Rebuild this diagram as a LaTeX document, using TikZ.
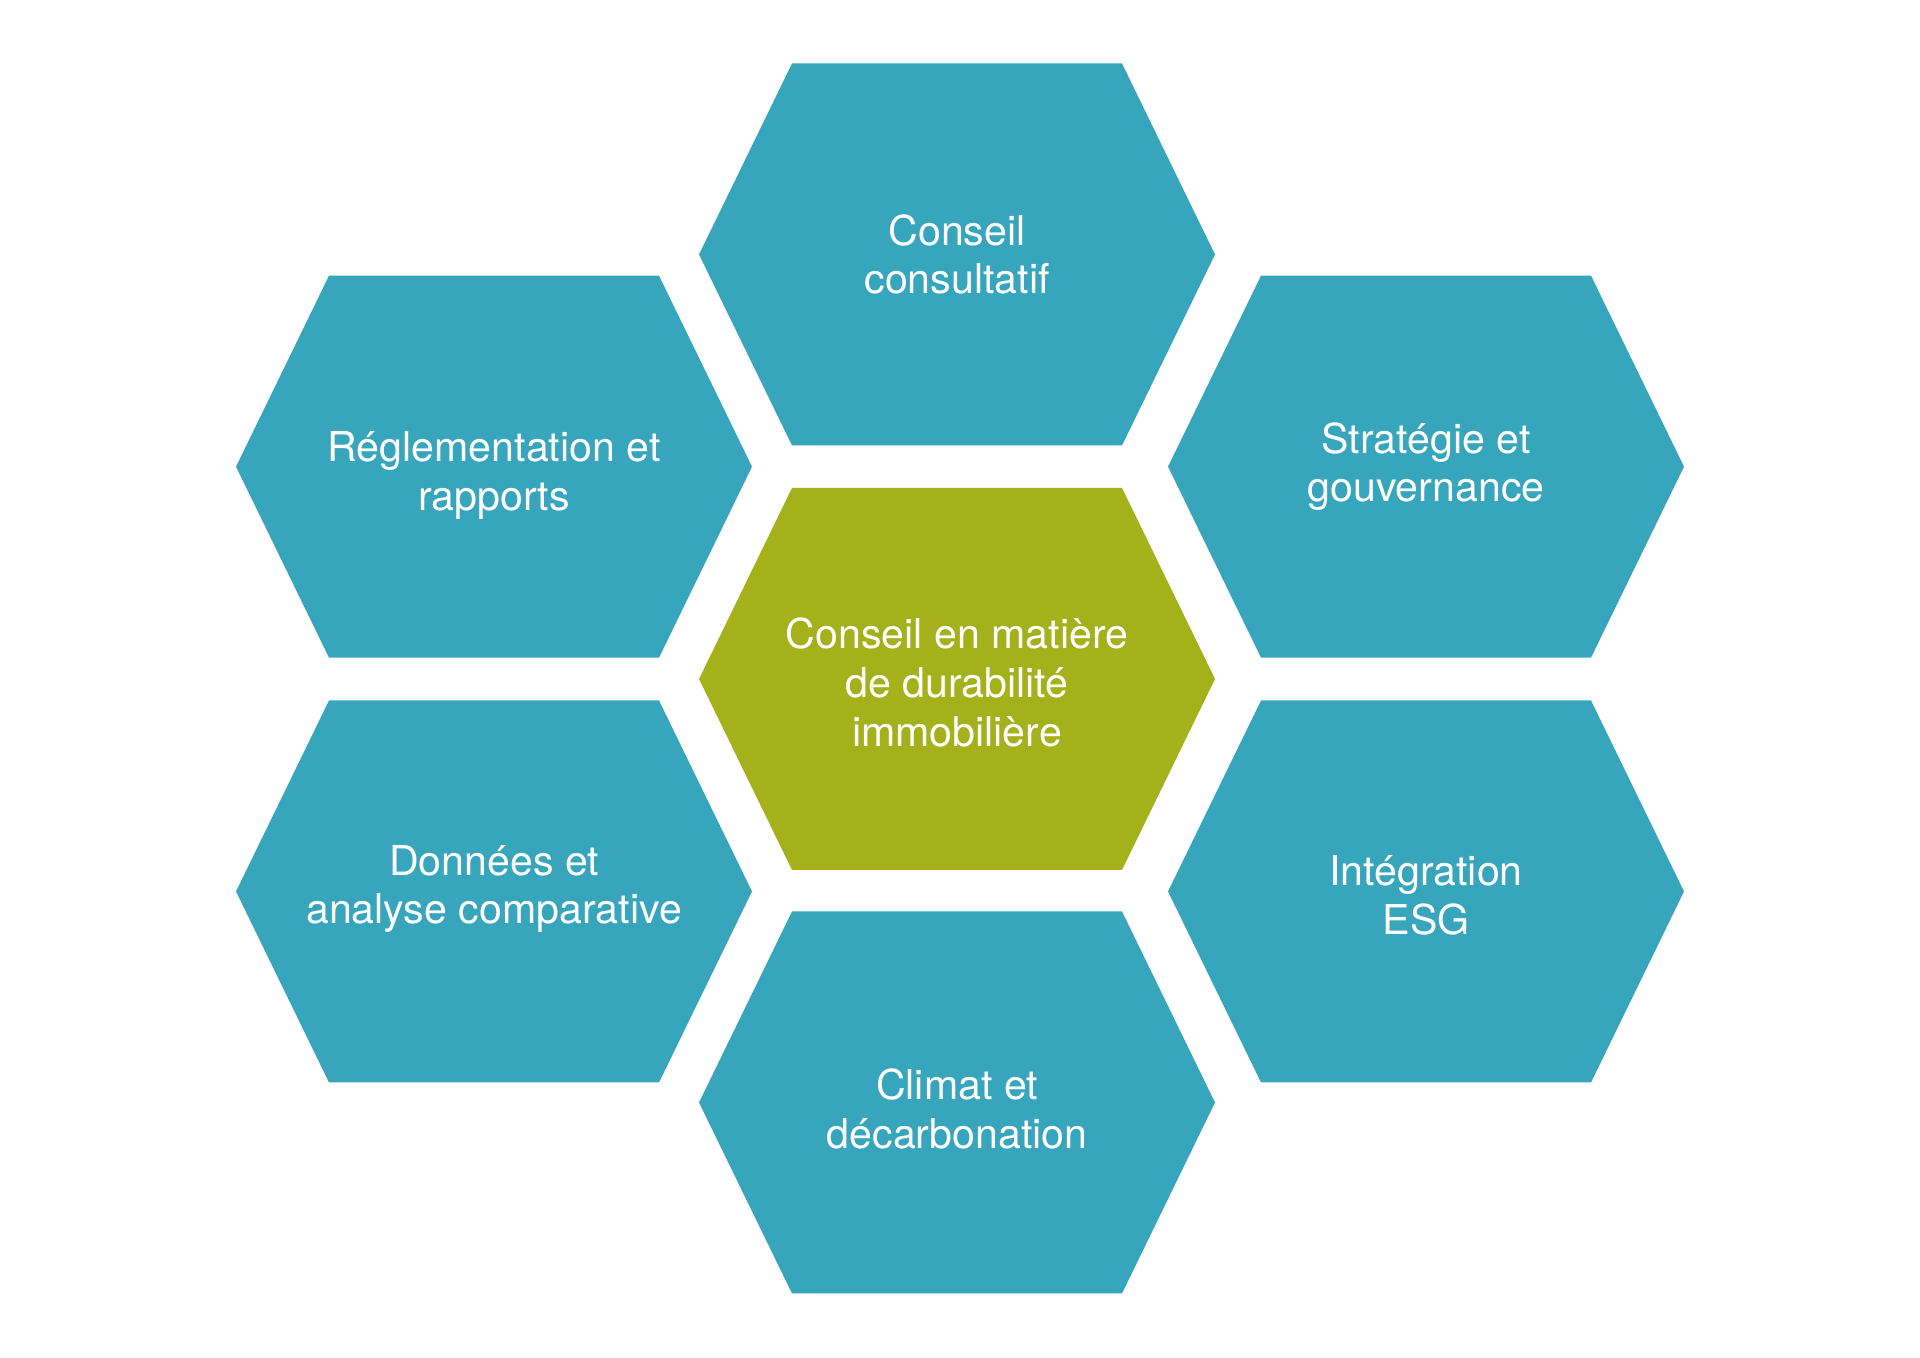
\documentclass[tikz,border=0pt]{standalone}
\usepackage{fontspec}
\setmainfont{TeX Gyre Heros}
\usepackage{tikz}
\usetikzlibrary{positioning}
\definecolor{hexteal}{RGB}{55,166,189}
\definecolor{hexolive}{RGB}{165,177,26}

% one hexagonal cell: [label options], name, centre, fill, text
\newcommand{\hexcell}[5][]{
  \fill[#4] (#3) ++(-2.58,0) -- ++(0.93,1.91) -- ++(3.30,0) -- ++(0.93,-1.91)
    -- ++(-0.93,-1.91) -- ++(-3.30,0) -- cycle;
  \node[hexlabel, #1] (#2) at (#3) {#5};
}

\begin{document}
\begin{tikzpicture}[hexlabel/.style={align=center, text=white, font=\fontsize{11.7}{13.9}\selectfont}]
  \fill[white] (0,0) rectangle (19.2,13.58);
  \useasboundingbox (0,0) rectangle (19.2,13.58);

  \hexcell{consultatif}{9.57,11.035}{hexteal}{Conseil\\consultatif}
  \hexcell[yshift=-0.085cm]{reglementation}{4.94,8.913}{hexteal}{Réglementation et\\rapports}
  \hexcell{strategie}{14.26,8.913}{hexteal}{Stratégie et\\gouvernance}
  \hexcell[yshift=-0.035cm]{core}{9.57,6.79}{hexolive}{Conseil en matière\\de durabilité\\immobilière}
  \hexcell[yshift=0.025cm]{donnees}{4.94,4.665}{hexteal}{Données et\\analyse comparative}
  \hexcell[yshift=-0.035cm]{integration}{14.26,4.665}{hexteal}{Intégration\\ESG}
  \hexcell[yshift=-0.065cm]{climat}{9.57,2.555}{hexteal}{Climat et\\décarbonation}
\end{tikzpicture}
\end{document}
